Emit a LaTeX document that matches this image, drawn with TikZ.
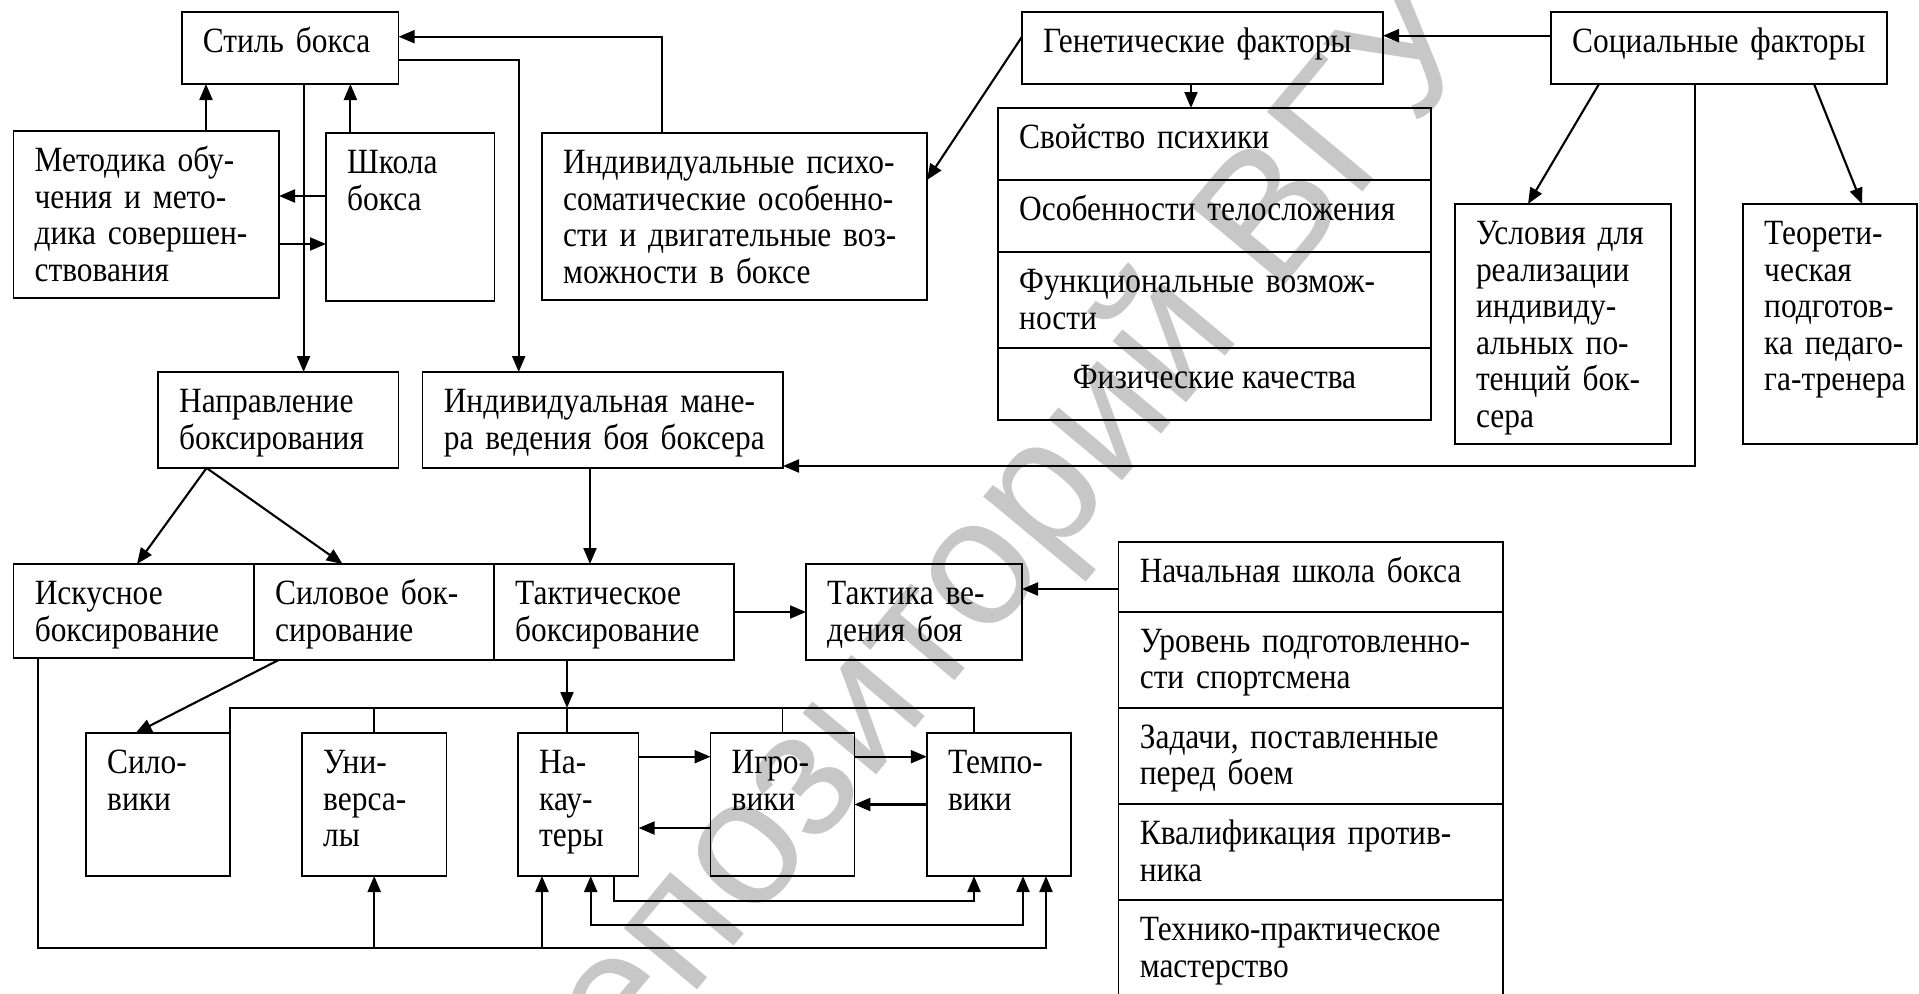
\documentclass[tikz,border=0pt]{standalone}
\usepackage{fontspec}
\setmainfont{Liberation Serif}[FakeStretch=0.885]
\newfontfamily\wmfont{Liberation Sans}
\usetikzlibrary{arrows.meta,fit,calc}
\tikzset{
  bx/.style={draw, line width=1.6pt, inner sep=0pt, outer sep=0pt},
  txt/.style={inner sep=0pt, font=\fontsize{35.5}{36.5}\selectfont, text width=500pt, align=left, anchor=north west},
  ctxt/.style={inner sep=0pt, font=\fontsize{35.5}{36.5}\selectfont, anchor=north},
  ln/.style={line width=1.5pt},
  arr/.style={line width=2.1pt, -{Triangle[length=16pt,width=13pt]}},
  barr/.style={line width=2.1pt, {Triangle[length=16pt,width=13pt]}-{Triangle[length=16pt,width=13pt]}},
  wm/.style={text=black!22, font=\wmfont\fontsize{181}{190}\selectfont, inner sep=0pt}
}
\newcommand\mkbox[5]{\node[bx, fit={(#2,#3) (#4,#5)}] (#1) {};}
\newcommand\boxtext[2]{\node[txt] (#1-t) at ([xshift=21pt,yshift=-15pt]#1.north west) {\strut #2};}
\begin{document}
\begin{tikzpicture}[x=1pt,y=-1pt]
\useasboundingbox (0,0) rectangle (1919,993);
\fill[white] (0,0) rectangle (1919,993);
% watermark
\node[wm, rotate=50.2] (wmark) at (988,566) {репозиторий ВГУ};

% boxes
\mkbox{style}{181.7}{12}{398.6}{84}
\mkbox{metod}{13.4}{131}{279}{298}
\mkbox{school}{326}{133}{494.6}{301}
\mkbox{psycho}{542}{133}{927}{300}
\mkbox{genetic}{1022}{12}{1383}{84}
\mkbox{social}{1551}{12}{1887}{84}
\mkbox{gl1}{998}{108}{1431}{180}
\mkbox{gl2}{998}{180}{1431}{252}
\mkbox{gl3}{998}{252}{1431}{348}
\mkbox{gl4}{998}{348}{1431}{420}
\mkbox{usl}{1454.8}{204}{1671}{444}
\mkbox{teor}{1743}{204}{1917}{444}
\mkbox{napr}{158}{372}{398.5}{468}
\mkbox{manera}{422.6}{372}{783}{468}
\mkbox{iskus}{13.6}{564}{254}{658}
\mkbox{silov}{254}{564}{494}{660}
\mkbox{takt}{494}{564}{734}{660}
\mkbox{taktika}{806}{564}{1022}{660}
\mkbox{tl1}{1118.6}{541.7}{1502.8}{611.7}
\mkbox{tl2}{1118.6}{611.7}{1502.8}{707.7}
\mkbox{tl3}{1118.6}{707.7}{1502.8}{804}
\mkbox{tl4}{1118.6}{804}{1502.8}{900}
\mkbox{tl5}{1118.6}{900}{1502.8}{996}
\mkbox{siloviki}{86}{733}{230}{876}
\mkbox{univ}{302}{733}{446.4}{876}
\mkbox{nakaut}{518}{733}{638.6}{876}
\mkbox{igrov}{710.5}{733}{854.4}{876}
\mkbox{tempo}{926.8}{733}{1070.7}{876}

% texts
\boxtext{style}{Стиль бокса}
\boxtext{metod}{Методика обу-\\чения и мето-\\дика совершен-\\ствования}
\boxtext{school}{Школа\\бокса}
\boxtext{psycho}{Индивидуальные психо-\\соматические особенно-\\сти и двигательные воз-\\можности в боксе}
\boxtext{genetic}{Генетические факторы}
\boxtext{social}{Социальные факторы}
\boxtext{gl1}{Свойство психики}
\boxtext{gl2}{Особенности телосложения}
\boxtext{gl3}{Функциональные возмож-\\ности}
\node[ctxt] (gl4-t) at ([yshift=-15pt]gl4.north) {\strut Физические качества};
\boxtext{usl}{Условия для\\реализации\\индивиду-\\альных по-\\тенций бок-\\сера}
\boxtext{teor}{Теорети-\\ческая\\подготов-\\ка педаго-\\га-тренера}
\boxtext{napr}{Направление\\боксирования}
\boxtext{manera}{Индивидуальная мане-\\ра ведения боя боксера}
\boxtext{iskus}{Искусное\\боксирование}
\boxtext{silov}{Силовое бок-\\сирование}
\boxtext{takt}{Тактическое\\боксирование}
\boxtext{taktika}{Тактика ве-\\дения боя}
\boxtext{tl1}{Начальная школа бокса}
\boxtext{tl2}{Уровень подготовленно-\\сти спортсмена}
\boxtext{tl3}{Задачи, поставленные\\перед боем}
\boxtext{tl4}{Квалификация против-\\ника}
\boxtext{tl5}{Технико-практическое\\мастерство}
\boxtext{siloviki}{Сило-\\вики}
\boxtext{univ}{Уни-\\верса-\\лы}
\boxtext{nakaut}{На-\\кау-\\теры}
\boxtext{igrov}{Игро-\\вики}
\boxtext{tempo}{Темпо-\\вики}

% connection points
\coordinate (m1) at ([xshift=59.8pt]metod.north);
\coordinate (s1) at ([xshift=-59.9pt]school.north);
\coordinate (s2) at ([yshift=21pt]school.west);
\coordinate (m2) at ([yshift=-29.5pt]metod.east);
\coordinate (p1) at ([xshift=-72.5pt]psycho.north);
\coordinate (st1) at ([yshift=11.3pt]style.east);
\coordinate (st2) at ([yshift=-12pt]style.east);
\coordinate (mn1) at ([xshift=-84.1pt]manera.north);
\coordinate (st3) at ([xshift=13.45pt]style.south);
\coordinate (g1) at ([yshift=11.3pt]genetic.west);
\coordinate (p2) at ([yshift=36.5pt]psycho.east);
\coordinate (g2) at ([xshift=-11.5pt]genetic.south);
\coordinate (so1) at ([yshift=12.3pt]social.west);
\coordinate (so2) at ([xshift=-120pt]social.south);
\coordinate (u1) at ([xshift=-34.9pt]usl.north);
\coordinate (so3) at ([xshift=95pt]social.south);
\coordinate (t1) at ([xshift=32pt]teor.north);
\coordinate (so4) at ([xshift=-24.2pt]social.south);
\coordinate (mn2) at ([yshift=-46pt]manera.east);
\coordinate (np1) at ([xshift=-71.65pt]napr.south);
\coordinate (is1) at ([xshift=3.2pt]iskus.north);
\coordinate (sv1) at ([xshift=-31.4pt]silov.north);
\coordinate (mn3) at ([xshift=-12.8pt]manera.south);
\coordinate (tl1a) at ([yshift=-12.3pt]tl1.west);
\coordinate (sv2) at ([xshift=-95.4pt]silov.south);
\coordinate (sl1) at ([xshift=-22.3pt]siloviki.north);
\coordinate (busL) at ([yshift=25pt]siloviki.north east);
\coordinate (tk1) at ([xshift=-47pt]takt.south);
\coordinate (nk0) at ([xshift=-11.3pt]nakaut.north);
\coordinate (tp0) at ([xshift=-24.75pt]tempo.north);
\coordinate (nk1) at ([yshift=47.8pt]nakaut.east);
\coordinate (ig1) at ([yshift=47.8pt]igrov.east);
\coordinate (ig2) at ([yshift=-23.5pt]igrov.west);
\coordinate (nk2) at ([xshift=36.1pt]nakaut.south);
\coordinate (tp1) at ([xshift=-24.75pt]tempo.south);
\coordinate (tp1b) at ([xshift=-24.75pt,yshift=-24.7pt]tempo.south);
\coordinate (nk3) at ([xshift=12.4pt]nakaut.south);
\coordinate (nk3b) at ([xshift=12.4pt,yshift=-49pt]nakaut.south);
\coordinate (tp2) at ([xshift=24.25pt]tempo.south);
\coordinate (is2) at ([xshift=-95.8pt]iskus.south);
\coordinate (tp3) at ([xshift=47.25pt]tempo.south);
\coordinate (bot) at ([xshift=47.25pt,yshift=-72pt]tempo.south);
\coordinate (nk4) at ([xshift=-36.3pt]nakaut.south);

% connectors
\draw[arr] (m1) -- (m1 |- style.south);
\draw[arr] (s1) -- (s1 |- style.south);
\draw[arr] (s2) -- (s2 -| metod.east);
\draw[arr] (m2) -- (m2 -| school.west);
\draw[arr] (p1) |- (st1);
\draw[arr] (st2) -| (mn1);
\draw[arr] (st3) -- (st3 |- napr.north);
\draw[arr] (g1) -- (p2);
\draw[arr] (g2) -- (g2 |- gl1.north);
\draw[arr] (so1) -- (so1 -| genetic.east);
\draw[arr] (so2) -- (u1);
\draw[arr] (so3) -- (t1);
\draw[arr] (so4) |- (mn2);
\draw[arr] (np1) -- (is1);
\draw[arr] (np1) -- (sv1);
\draw[arr] (mn3) -- (mn3 |- takt.north);
\draw[arr] (takt.east) -- (takt.east -| taktika.west);
\draw[arr] (tl1a) -- (tl1a -| taktika.east);
\draw[arr] (sv2) -- (sl1);
\draw[ln] (siloviki.north east) -- (busL) -| (tp0);
\draw[arr] (tk1) -- (tk1 |- busL);
\draw[ln] (univ.north) -- (univ.north |- busL);
\draw[ln] (nk0) -- (nk0 |- busL);
\draw[ln] (igrov.north) -- (igrov.north |- busL);
\draw[arr] (nk1) -- (nk1 -| igrov.west);
\draw[arr] (ig1) -- (ig1 -| tempo.west);
\draw[arr] (tempo.west) -- (tempo.west -| igrov.east);
\draw[arr] (ig2) -- (ig2 -| nakaut.east);
\draw[arr] (nk2) |- (tp1b) -- (tp1);
\draw[barr] (nk3) -- (nk3b) -| (tp2);
\draw[arr] (is2) |- (bot) -- (tp3);
\draw[arr] (univ.south |- bot) -- (univ.south);
\draw[arr] (nk4 |- bot) -- (nk4);
\end{tikzpicture}
\end{document}
